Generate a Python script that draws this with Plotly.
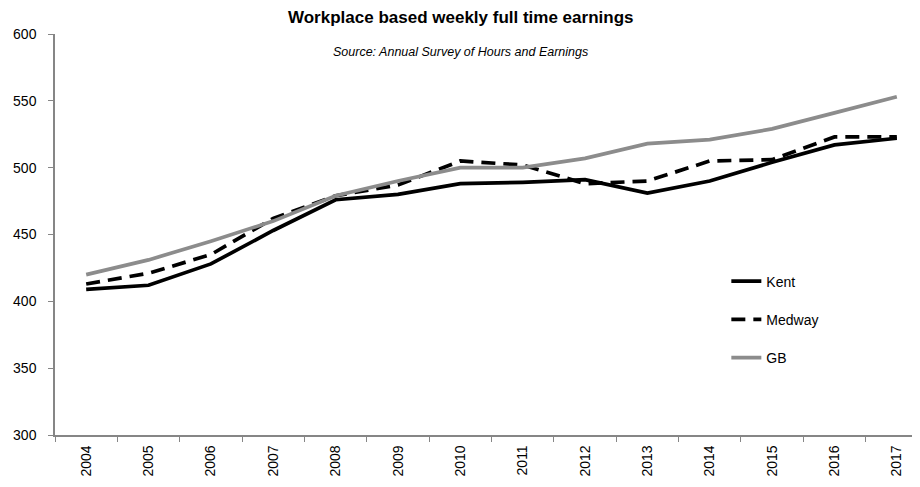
import plotly.graph_objects as go

years = [str(y) for y in range(2004, 2018)]
kent = [409, 412, 428, 453, 476, 480, 488, 489, 491, 481, 490, 504, 517, 522]
medway = [413, 421, 435, 462, 479, 487, 505, 502, 488, 490, 505, 506, 523, 523]
gb = [420, 431, 445, 460, 479, 490, 500, 500, 507, 518, 521, 529, 541, 553]

FONT = "Liberation Sans, Arial"
AX = "#868686"

# page has an 8px body margin; figure coords = page coords - 8
L, T, B, R = 47, 26, 60, 0
W, H = 920, 487

fig = go.Figure()
fig.add_trace(go.Scatter(x=years, y=kent, name="Kent", mode="lines",
                         line=dict(color="black", width=3.7), legendgroup="a"))
fig.add_trace(go.Scatter(x=years, y=medway, name="Medway", mode="lines",
                         line=dict(color="black", width=3.7, dash="14px,8px"), legendgroup="b"))
fig.add_trace(go.Scatter(x=years, y=gb, name="GB", mode="lines",
                         line=dict(color="#8c8c8c", width=3.7), legendgroup="c"))

fig.update_layout(
    width=W, height=H,
    margin=dict(l=L, r=R, t=T, b=B, autoexpand=False),
    paper_bgcolor="white", plot_bgcolor="white",
    font=dict(family=FONT, size=14, color="black"),
    showlegend=True,
    legend=dict(x=0.769, y=0.4225, xanchor="left", yanchor="top",
                tracegroupgap=17, font=dict(size=14), bgcolor="rgba(0,0,0,0)"),
    xaxis=dict(type="category", range=[-0.5, 13.5], showline=True, linecolor=AX, linewidth=1.5,
               ticks="outside", tickson="boundaries", ticklen=5, tickcolor=AX,
               tickangle=-90, showgrid=False, tickfont=dict(size=14), automargin=False,
               ticklabelstandoff=3),
    yaxis=dict(range=[300, 600], dtick=50, showline=True, linecolor=AX, linewidth=1.5,
               ticks="outside", ticklen=5, tickcolor=AX, showgrid=False, zeroline=False,
               tickfont=dict(size=14), automargin=False, ticklabelstandoff=9),
    annotations=[
        dict(text="<b>Workplace based weekly full time earnings</b>", x=460 - 8, y=17 - 8,
             xref="paper", yref="paper", showarrow=False, font=dict(size=17)),
        dict(text="<i>Source: Annual Survey of Hours and Earnings</i>", x=460 - 8, y=52 - 8,
             xref="paper", yref="paper", showarrow=False, font=dict(size=12.5)),
    ],
)
pw, ph = W - L - R, H - T - B
for a in fig.layout.annotations:
    a.x = (a.x - L) / pw
    a.y = (H - B - a.y) / ph
    a.xanchor = "center"
    a.yanchor = "middle"

fig.write_html("out.html")
